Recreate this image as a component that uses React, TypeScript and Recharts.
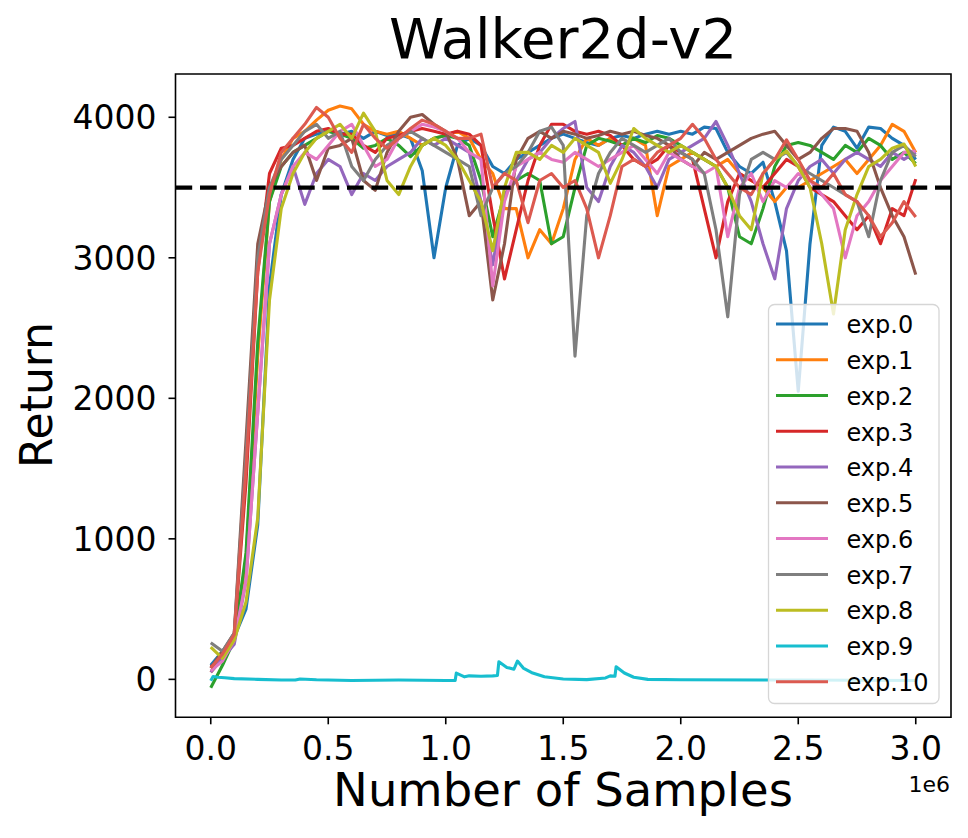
import { Line, LineChart, ReferenceArea, ReferenceLine, XAxis, YAxis } from "recharts";

// x positions in millions of samples (axis shows "1e6" offset)
const samples = [
  0, 0.05, 0.1, 0.15, 0.2, 0.25, 0.3, 0.35, 0.4, 0.45, 0.5, 0.55, 0.6, 0.65, 0.7, 0.75, 0.8, 0.85, 0.9, 0.95,
  1.0, 1.05, 1.1, 1.15, 1.2, 1.25, 1.3, 1.35, 1.4, 1.45, 1.5, 1.55, 1.6, 1.65, 1.7, 1.75, 1.8, 1.85, 1.9, 1.95,
  2.0, 2.05, 2.1, 2.15, 2.2, 2.25, 2.3, 2.35, 2.4, 2.45, 2.5, 2.55, 2.6, 2.65, 2.7, 2.75, 2.8, 2.85, 2.9, 2.95,
  3.0,
];

const exp0 = [
  100, 200, 300, 500, 1100, 2800, 3450, 3700, 3850, 3880, 3900, 3880, 3900, 3850, 3900, 3870, 3880, 3850, 3620, 3000,
  3500, 3800, 3850, 3800, 3650, 3600, 3700, 3750, 3800, 3850, 3880, 3850, 3820, 3800, 3850, 3870, 3850, 3880, 3900, 3880,
  3900, 3880, 3930, 3920, 3750, 3650, 3600, 3680, 3400, 3050, 2050, 3100, 3800, 3930, 3900, 3780, 3930, 3920, 3850, 3800,
  3700,
];
const exp1 = [
  50, 150, 300, 850, 2300, 3400, 3700, 3850, 3900, 3980, 4050, 4080, 4060, 3950, 3900, 3880, 3900, 3850, 3800, 3850,
  3870, 3900, 3850, 3700, 3600, 3350, 3350, 3000, 3200, 3100, 3350, 3700, 3850, 3800, 3850, 3800, 3850, 3800, 3300, 3650,
  3700, 3750, 3700, 3650, 3700, 3600, 3550, 3500, 3400, 3500, 3500, 3550, 3600, 3650, 3700, 3600, 3700, 3800, 3950, 3900,
  3750,
];
const exp2 = [
  -60, 100, 280, 900, 2400, 3400, 3650, 3750, 3800, 3850, 3900, 3880, 3850, 3780, 3800, 3850, 3800, 3720, 3800, 3850,
  3870, 3850, 3800, 3550, 3150, 3450, 3550, 3600, 3550, 3100, 3150, 3500, 3800, 3850, 3830, 3800, 3850, 3820, 3870, 3850,
  3800, 3750, 3700, 3650, 3500, 3150, 3100, 3350, 3650, 3800, 3820, 3800, 3750, 3700, 3800, 3750, 3850, 3800, 3700, 3750,
  3670,
];
const exp3 = [
  90, 150, 320, 1400, 2900, 3600, 3780, 3800, 3850, 3900, 3920, 3880, 3880, 3800, 3750, 3850, 3870, 3900, 3920, 3900,
  3880, 3900, 3880, 3800, 3300, 2850, 3200, 3550, 3800, 3950, 3950, 3900, 3880, 3900, 3870, 3800, 3700, 3650, 3700, 3800,
  3750, 3700, 3350, 3000, 3400, 3600, 3550, 3500, 3600, 3700, 3650, 3500, 3450, 3400, 3300, 3200, 3300, 3100, 3350, 3300,
  3560,
];
const exp4 = [
  50, 150, 250, 700, 1900, 3100, 3450, 3650, 3380, 3600, 3700, 3650, 3450, 3600, 3550, 3650, 3700, 3750, 3850, 3800,
  3850, 3800, 3750, 3400, 2950, 3450, 3550, 3700, 3750, 3850, 3920, 3970, 3500, 3400, 3650, 3800, 3750, 3650, 3500, 3700,
  3750, 3800, 3850, 3970, 3800, 3600, 3400, 3100, 2850, 3350, 3550, 3650, 3700, 3600, 3700, 3750, 3700, 3650, 3750, 3700,
  3750,
];
const exp5 = [
  80, 200, 330, 1700, 3100, 3500, 3650, 3750, 3800, 3550, 3780, 3800, 3850, 3550, 3480, 3750, 3900, 4000, 4020, 3950,
  3900, 3700, 3300, 3400, 2700, 3100, 3700, 3850, 3900, 3850, 3900, 3880, 3850, 3870, 3900, 3880, 3900, 3870, 3850, 3800,
  3700, 3650, 3750, 3700, 3750, 3800, 3850, 3880, 3900, 3800, 3700, 3750, 3850, 3920, 3920, 3900, 3750, 3500, 3300, 3150,
  2880,
];
const exp6 = [
  60, 130, 280, 700, 1900, 3100, 3450, 3650, 3750, 3700, 3800, 3900, 3950, 3800, 3650, 3700, 3850, 3900, 3950, 3930,
  3900, 3850, 3750, 3700, 2800, 3400, 3650, 3700, 3750, 3700, 3680, 3750, 3700, 3650, 3700, 3750, 3800, 3700, 3600, 3750,
  3700, 3650, 3600, 3650, 3150, 3500, 3600, 3400, 3550, 3500, 3600, 3550, 3450, 3350, 3000, 3300, 3400, 3550, 3650, 3750,
  3760,
];
const exp7 = [
  260, 200, 330, 1600, 3000, 3500, 3700, 3800, 3900, 3950, 3850, 3900, 3650, 3550, 3700, 3800, 3850, 3900, 3850, 3800,
  3750, 3700, 3650, 3300, 3500, 3600, 3650, 3750, 3900, 3930, 3800, 2300, 3300, 3600, 3750, 3850, 3800, 3750, 3800, 3850,
  3750, 3700, 3600, 3200, 2580, 3450, 3700, 3750, 3700, 3750, 3650, 3600, 3550, 3500, 3450, 3400, 3150, 3550, 3750, 3800,
  3720,
];
const exp8 = [
  230, 150, 280, 550, 1150, 2700, 3350, 3600, 3750, 3850, 3900, 3950, 3850, 4030, 3900, 3550, 3450, 3650, 3800, 3850,
  3800, 3700, 3550, 3400, 3050, 3500, 3750, 3750, 3700, 3800, 3750, 3850, 3800, 3750, 3530, 3700, 3920, 3850, 3800, 3750,
  3800, 3750, 3700, 3650, 3500, 3300, 3200, 3600, 3700, 3760, 3650, 3500, 3100, 2600, 3200, 3450, 3650, 3700, 3780, 3810,
  3650,
];
const exp10 = [
  80, 180, 320, 1500, 2900, 3450, 3750, 3850, 3950, 4070, 4000, 3850, 3750, 3950, 3850, 3780, 3850, 3920, 3980, 3950,
  3900, 3850, 3850, 3880, 3500, 3600, 3550, 3250, 3550, 3600, 3500, 3550, 3350, 3000, 3300, 3650, 3700, 3650, 3750, 3800,
  3850, 3950, 3850, 3700, 3600, 3500, 3450, 3600, 3700, 3840, 3700, 3550, 3500, 3600, 3450, 3400, 3300, 3150, 3250, 3400,
  3290,
];

// exp.9 stayed near zero; it has its own sample points around the spikes
const exp9Samples = [
  0, 0.01, 0.03, 0.06, 0.1, 0.2, 0.3, 0.36, 0.38, 0.45, 0.6, 0.8, 1.0, 1.04, 1.045, 1.08, 1.1, 1.15, 1.2, 1.22,
  1.226, 1.26, 1.29, 1.305, 1.33, 1.37, 1.42, 1.5, 1.6, 1.68, 1.7, 1.72, 1.725, 1.76, 1.8, 1.86, 2.0, 2.5, 3.0,
];
const exp9 = [
  -10, 20, 15, 12, 5, 0, -5, -5, 3, -3, -8, -5, -8, -8, 45, 18, 25, 22, 25, 28,
  125, 85, 72, 130, 80, 45, 18, 3, -2, 10, 25, 22, 90, 45, 15, 0, -3, -5, -8,
];

const seriesNames = ["exp.0", "exp.1", "exp.2", "exp.3", "exp.4", "exp.5", "exp.6", "exp.7", "exp.8", "exp.9", "exp.10"];
const xTicks = [0, 0.5, 1.0, 1.5, 2.0, 2.5, 3.0];
const yTicks = [0, 1000, 2000, 3000, 4000];
const threshold = 3500;

const colors = [
  "#1f77b4", "#ff7f0e", "#2ca02c", "#d62728", "#9467bd", "#8c564b",
  "#e377c2", "#7f7f7f", "#bcbd22", "#17becf", "#dc5a50",
];

const sharedCurves: (number[] | null)[] = [exp0, exp1, exp2, exp3, exp4, exp5, exp6, exp7, exp8, null, exp10];

const rows = samples.map((x, i) => {
  const row: Record<string, number> = { x };
  sharedCurves.forEach((c, k) => {
    if (c) row["s" + k] = c[i];
  });
  return row;
});
const exp9Rows = exp9Samples.map((x, i) => ({ x, s9: exp9[i] }));

const X_DOMAIN: [number, number] = [-0.15, 3.15];
const Y_DOMAIN: [number, number] = [-270, 4308];
const FONT = "DejaVu Sans";

function LegendBox() {
  const top = 304.5;
  const step = 35.77;
  return (
    <g>
      <rect x={768.5} y={top} width={170.5} height={399} rx={6} fill="rgba(255,255,255,0.8)" stroke="#d6d6d6" strokeWidth={1.3} />
      {seriesNames.map((name, i) => {
        const cy = 324 + i * step;
        return (
          <g key={name}>
            <line x1={776} x2={828} y1={cy} y2={cy} stroke={colors[i]} strokeWidth={3} />
            <text x={846.5} y={cy + 9.3} fontSize={24} fontFamily={FONT} fill="#000">
              {name}
            </text>
          </g>
        );
      })}
    </g>
  );
}

export default function App() {
  return (
    <div style={{ position: "absolute", left: 0, top: 0, width: 968, height: 838, background: "#fff" }}>
      <LineChart
        width={968}
        height={838}
        data={rows}
        margin={{ top: 74, right: 17, bottom: 60.7, left: 75.5 }}
      >
        <XAxis
          dataKey="x"
          type="number"
          domain={X_DOMAIN}
          allowDataOverflow
          ticks={xTicks}
          interval={0}
          height={60}
          tickSize={7}
          tickMargin={12}
          axisLine={false}
          tickLine={{ stroke: "#000", strokeWidth: 1.6 }}
          tick={{ fill: "#000", fontSize: 33, fontFamily: FONT }}
          tickFormatter={(v: number) => v.toFixed(1)}
        />
        <YAxis
          type="number"
          domain={Y_DOMAIN}
          allowDataOverflow
          ticks={yTicks}
          interval={0}
          width={100}
          tickSize={7}
          tickMargin={12}
          axisLine={false}
          tickLine={{ stroke: "#000", strokeWidth: 1.6 }}
          tick={{ fill: "#000", fontSize: 33, fontFamily: FONT }}
        />
        {seriesNames.map((name, k) => (
          <Line
            key={name}
            name={name}
            data={k === 9 ? exp9Rows : undefined}
            dataKey={"s" + k}
            type="linear"
            stroke={colors[k]}
            strokeWidth={3.1}
            strokeLinejoin="round"
            dot={false}
            activeDot={false}
            isAnimationActive={false}
          />
        ))}
        <ReferenceLine y={threshold} stroke="#000" strokeWidth={4.3} strokeDasharray="16.7 7.8" />
        <ReferenceArea
          x1={X_DOMAIN[0]}
          x2={X_DOMAIN[1]}
          y1={Y_DOMAIN[0]}
          y2={Y_DOMAIN[1]}
          fill="none"
          fillOpacity={0}
          stroke="#000"
          strokeWidth={1.6}
        />
      </LineChart>
      <svg
        width={968}
        height={838}
        style={{ position: "absolute", left: 0, top: 0, pointerEvents: "none" }}
      >
        <text x={563} y={58} textAnchor="middle" fontSize={56} fontFamily={FONT} fill="#000">
          Walker2d-v2
        </text>
        <text x={563} y={806} textAnchor="middle" fontSize={46.5} fontFamily={FONT} fill="#000">
          Number of Samples
        </text>
        <text transform="translate(51.5 395) rotate(-90)" textAnchor="middle" fontSize={44} fontFamily={FONT} fill="#000">
          Return
        </text>
        <text x={950} y={791.5} textAnchor="end" fontSize={22} fontFamily={FONT} fill="#000">
          1e6
        </text>
        <LegendBox />
      </svg>
    </div>
  );
}
